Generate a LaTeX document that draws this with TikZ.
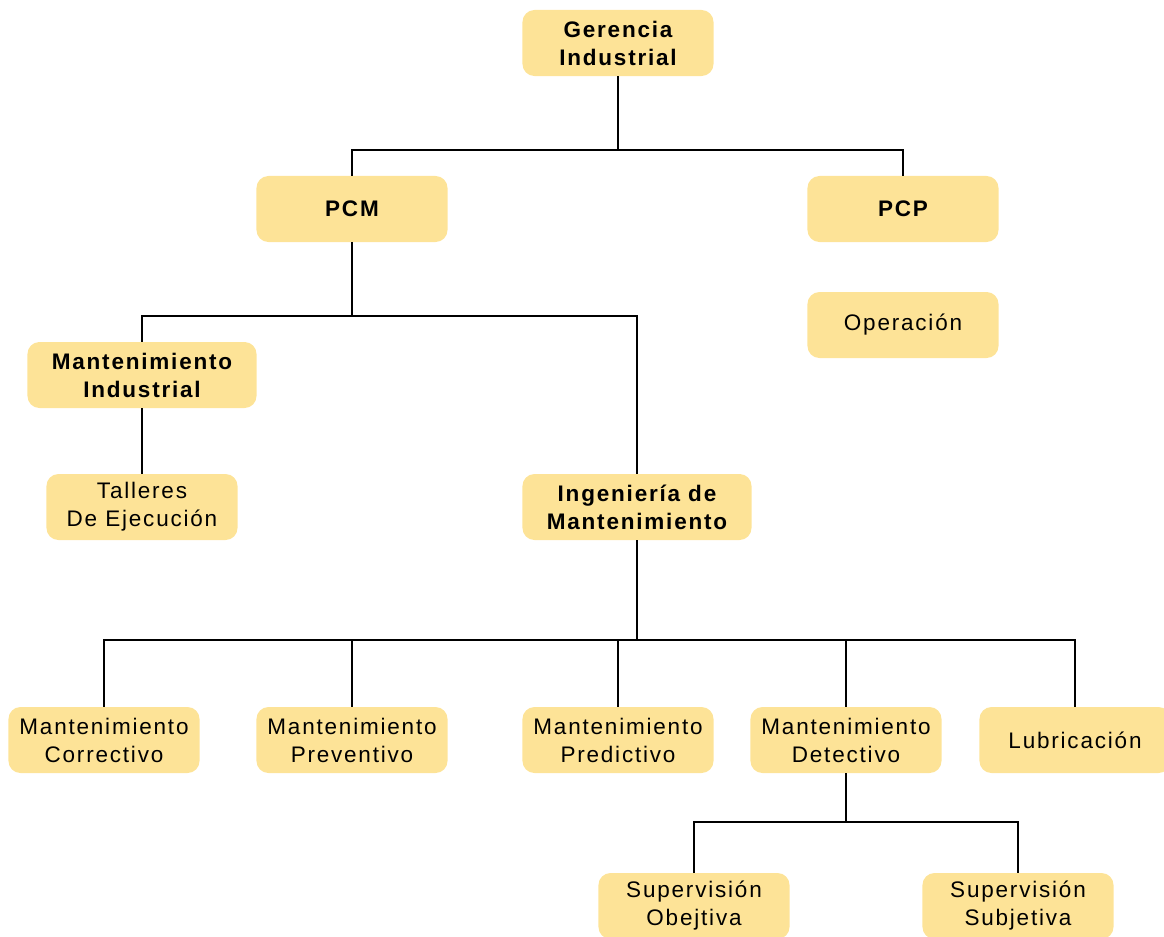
\documentclass[tikz,border=0pt]{standalone}
\usepackage{fontspec}
\setmainfont{Liberation Sans}[LetterSpace=8]
\usepackage{tikz}
\usetikzlibrary{positioning,calc}
\definecolor{boxfill}{RGB}{253,227,151}

\begin{document}
\begin{tikzpicture}[
    x=0.025cm, y=-0.025cm,
    box/.style={fill=boxfill, rounded corners=0.3cm, minimum width=4.775cm, minimum height=1.65cm, align=center, font=\fontsize{16}{19.9}\selectfont},
    wide/.style={box, minimum width=5.725cm},
    head/.style={font=\fontsize{16}{19.9}\selectfont\bfseries},
    conn/.style={line width=1.3pt}
]
\useasboundingbox (0,0) rectangle (1164,936);

\node[box,head] (ger) at (618,43) {Gerencia\\Industrial};
\node[box,head] (pcm) at (352,209) {PCM};
\node[box,head] (pcp) at (903,209) {PCP};
\node[box] (ope) at (903,325) {Operación};
\node[wide,head] (mind) at (142,375) {Mantenimiento\\Industrial};
\node[box] (tal) at (142,507) {Talleres\\De Ejecución};
\node[wide,head] (ing) at (637,507) {Ingeniería de\\Mantenimiento};
\node[box] (mcor) at (104,740) {Mantenimiento\\Correctivo};
\node[box] (mpre) at (352,740) {Mantenimiento\\Preventivo};
\node[box] (mpred) at (618,740) {Mantenimiento\\Predictivo};
\node[box] (mdet) at (846,740) {Mantenimiento\\Detectivo};
\node[box] (lub) at (1075,740) {Lubricación};
\node[box] (sobj) at (694,906) {Supervisión\\Obejtiva};
\node[box] (ssub) at (1018,906) {Supervisión\\Subjetiva};

% buses
\coordinate (b1) at (618,150);
\coordinate (b2) at (352,316);
\coordinate (b3) at (637,640);
\coordinate (b4) at (846,822);

\draw[conn] (ger) -- (b1) -| (pcm);
\draw[conn] (b1) -| (pcp);
\draw[conn] (pcm) -- (b2) -| (mind);
\draw[conn] (b2) -| (ing);
\draw[conn] (mind) -- (tal);
\draw[conn] (ing) -- (b3) -| (mcor);
\draw[conn] (b3) -| (mpre);
\draw[conn] (b3) -| (mpred);
\draw[conn] (b3) -| (mdet);
\draw[conn] (b3) -| (lub);
\draw[conn] (mdet) -- (b4) -| (sobj);
\draw[conn] (b4) -| (ssub);
\end{tikzpicture}
\end{document}
